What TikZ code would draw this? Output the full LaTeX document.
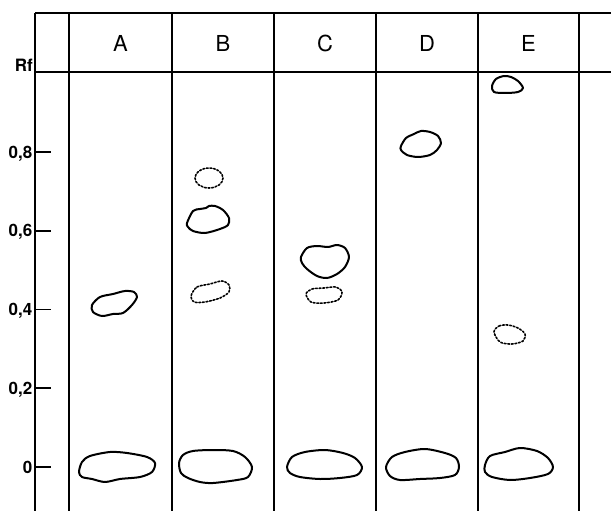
\documentclass[tikz,border=0pt]{standalone}
\usepackage{fontspec}
\setmainfont{TeX Gyre Heros}
\usepackage{tikz}

\begin{document}
\begin{tikzpicture}[x=1pt,y=-1pt,line join=round,
  frame/.style={line width=1.7pt},
  spot/.style={line width=2pt},
  faint/.style={line width=1.6pt,dash pattern=on 1.8pt off 1.8pt,line cap=round},
  lane/.style={font=\fontsize{22}{22}\selectfont,anchor=base,inner sep=0pt},
  rfnum/.style={font=\bfseries\fontsize{17}{17}\selectfont,anchor=base east,inner sep=0pt}]
  \useasboundingbox (0,0) rectangle (611,511);
  % plate frame
  \draw[frame] (35,13) -- (611,13);
  \draw[frame] (35,72) -- (611,72);
  \foreach \x in {35,69,172,274,376,478,579}
    \draw[frame] (\x,13) -- (\x,511);
  % lane letters
  \node[lane] (A) at (120.5,52) {A};
  \node[lane] (B) at (223,52) {B};
  \node[lane] (C) at (325,52) {C};
  \node[lane] (D) at (427,52) {D};
  \node[lane] (E) at (528.5,52) {E};
  % Rf scale
  \node[rfnum] (rf) at (33,72) {Rf};
  \foreach \r/\t in {0/0,0.2/{0,2},0.4/{0,4},0.6/{0,6},0.8/{0,8}}{
    \draw[frame] (35,{467-393.5*\r}) -- ++(16,0);
    \node[rfnum] at (32.5,{467-393.5*\r+6}) {\t};
  }
  % start spots
  \draw[spot] plot[smooth cycle] coordinates {(79,472) (82,462) (90,456) (110,452) (127,453) (147,457) (155,463) (152,472) (140,477) (120,479) (105,482) (92,479) (82,477)};
  \draw[spot] plot[smooth cycle] coordinates {(179,463) (183,455) (193,451) (213,450) (233,451) (245,457) (252,467) (248,477) (237,480) (213,483) (200,482) (188,478) (181,473)};
  \draw[spot] plot[smooth cycle] coordinates {(287,467) (292,457) (305,452) (325,450) (343,453) (355,458) (362,467) (357,475) (340,478) (320,479) (300,477) (290,473)};
  \draw[spot] plot[smooth cycle] coordinates {(386,467) (392,457) (405,452) (425,449) (445,453) (456,458) (459,467) (455,475) (440,478) (420,479) (400,480) (390,476)};
  \draw[spot] plot[smooth cycle] coordinates {(485,465) (490,456) (505,452) (520,448) (537,451) (548,458) (553,467) (548,474) (530,478) (510,480) (492,477) (485,472)};
  % lane A
  \draw[spot] plot[smooth cycle] coordinates {(92,305) (100,297) (113,294) (125,291) (134,292) (137,297) (132,305) (123,313) (113,314) (102,316) (93,312)};
  % lane B
  \draw[faint] (209,178) ellipse[x radius=14,y radius=10];
  \draw[spot] plot[smooth cycle] coordinates {(187,223) (193,211) (200,209) (206,208) (209,206) (215,206) (223,210) (229,218) (228,225) (220,229) (205,233) (193,231) (188,227)};
  \draw[faint] plot[smooth cycle] coordinates {(191,296) (197,287) (210,284) (222,281) (229,285) (229,292) (220,298) (205,302) (194,302)};
  % lane C
  \draw[spot] plot[smooth cycle] coordinates {(301,257) (307,248) (317,246) (328,247) (337,245) (345,248) (349,257) (345,267) (337,274) (327,278) (317,276) (307,269) (302,263)};
  \draw[faint] plot[smooth cycle] coordinates {(306,294) (312,289) (324,288) (336,287) (342,292) (338,300) (324,303) (311,302)};
  % lane D
  \draw[spot] plot[smooth cycle] coordinates {(401,146) (406,138) (414,134) (421,131) (430,132) (438,136) (441,143) (437,150) (430,155) (418,157) (407,155) (401,150)};
  % lane E
  \draw[spot] plot[smooth cycle] coordinates {(492,86) (496,79) (504,76) (511,77) (518,81) (523,88) (518,92) (505,93) (494,92)};
  \draw[faint] plot[smooth cycle] coordinates {(494,332) (499,326) (508,325) (518,328) (525,334) (523,341) (512,344) (500,342)};
\end{tikzpicture}
\end{document}
